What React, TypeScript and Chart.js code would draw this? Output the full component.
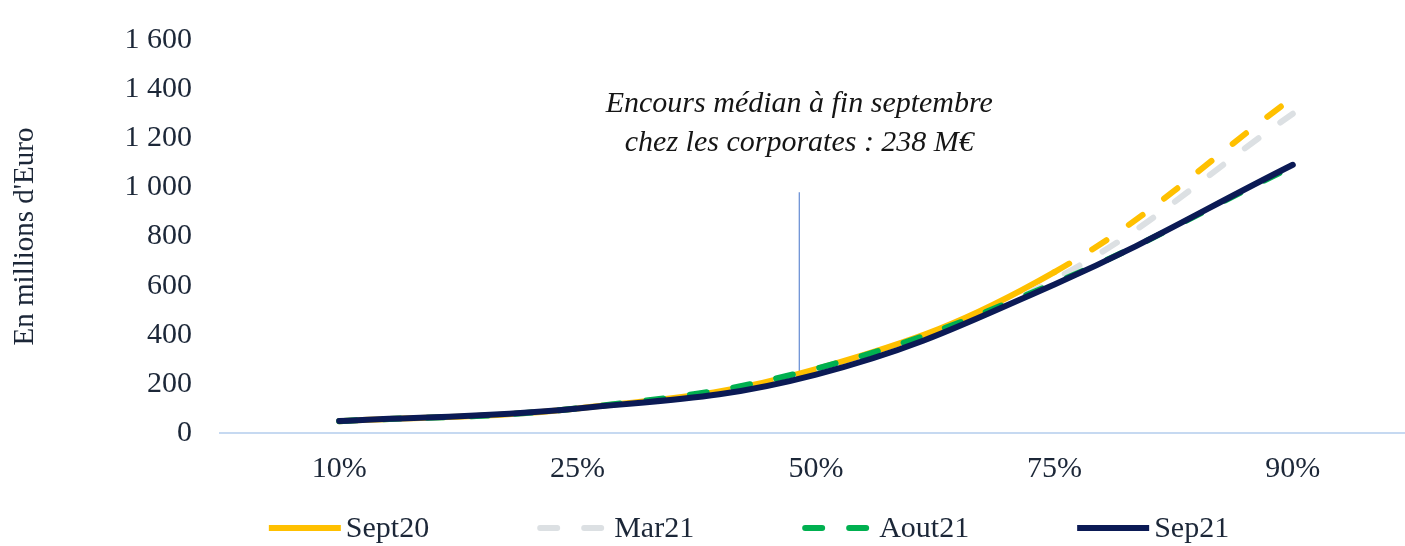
import React, { useEffect, useRef } from 'react';
import { Chart, registerables } from 'chart.js';

Chart.register(...registerables);

const categories = ['10%', '25%', '50%', '75%', '90%'];
const seriesNames = ['Sept20', 'Mar21', 'Aout21', 'Sep21'];
const sept20 = [48, 100, 260, 655, 1365];
const mar21 = [48, 100, 255, 625, 1300];
const aout21 = [48, 101, 262, 610, 1085];
const sep21 = [49, 100, 238, 605, 1092];
const seriesColors = ['#FFC000', '#DCE0E3', '#00B050', '#0B1A55'];
const yMin = 0;
const yMax = 1600;
const yStep = 200;
const yTitle = "En millions d'Euro";
const noteLines = ['Encours médian à fin septembre', 'chez les corporates : 238 M€'];
const noteX = 1.93; // position on the category axis
const noteLineTop = 980;
const noteLineBottom = 250;
const noteTextY = [1339, 1180];

const FONT = "'Liberation Serif', 'Times New Roman', serif";
const TEXT_COLOR = '#1c2738';
const DASH = [17, 27];

const fmt = (v: number) => String(v).replace(/\B(?=(\d{3})+(?!\d))/g, ' ');

const notePlugin = {
  id: 'medianNote',
  beforeDatasetsDraw(chart: any) {
    const { ctx, scales } = chart;
    const x = scales.x.getPixelForValue(noteX);
    ctx.save();
    ctx.strokeStyle = '#6f93d6';
    ctx.lineWidth = 1.3;
    ctx.beginPath();
    ctx.moveTo(x, scales.y.getPixelForValue(noteLineTop));
    ctx.lineTo(x, scales.y.getPixelForValue(noteLineBottom));
    ctx.stroke();
    ctx.restore();
  },
  afterDraw(chart: any) {
    const { ctx, scales } = chart;
    const x = scales.x.getPixelForValue(noteX);
    ctx.save();
    ctx.font = `italic 30px ${FONT}`;
    ctx.fillStyle = '#151515';
    ctx.textAlign = 'center';
    ctx.textBaseline = 'middle';
    noteLines.forEach((t, i) => {
      ctx.fillText(t, x, scales.y.getPixelForValue(noteTextY[i]));
    });
    ctx.restore();
  },
};

const legendPlugin = {
  id: 'customLegend',
  afterDraw(chart: any) {
    const { ctx } = chart;
    const lineLen = 72;
    const textGap = 5;
    const itemGap = 108;
    const centerX = 749;
    const y = 528;
    ctx.save();
    ctx.font = `30px ${FONT}`;
    const widths = chart.data.datasets.map((d: any) => lineLen + textGap + ctx.measureText(d.label).width);
    const total = widths.reduce((a: number, b: number) => a + b, 0) + itemGap * (widths.length - 1);
    let x = centerX - total / 2;
    chart.data.datasets.forEach((d: any, i: number) => {
      ctx.save();
      ctx.strokeStyle = d.borderColor;
      ctx.lineWidth = 6;
      ctx.lineCap = d.legendDashed ? 'round' : 'butt';
      ctx.setLineDash(d.legendDashed ? DASH : []);
      ctx.beginPath();
      ctx.moveTo(x + (d.legendDashed ? 3 : 0), y);
      ctx.lineTo(x + lineLen, y);
      ctx.stroke();
      ctx.restore();
      ctx.fillStyle = TEXT_COLOR;
      ctx.textAlign = 'left';
      ctx.textBaseline = 'middle';
      ctx.fillText(d.label, x + lineLen + textGap, y + 1);
      x += widths[i] + itemGap;
    });
    ctx.restore();
  },
};

export default function App() {
  const ref = useRef<HTMLCanvasElement | null>(null);

  useEffect(() => {
    if (!ref.current) return;
    const chart = new Chart(ref.current, {
      type: 'line',
      data: {
        labels: categories,
        datasets: [
          {
            label: seriesNames[0],
            data: sept20,
            borderColor: seriesColors[0],
            borderWidth: 6,
            borderCapStyle: 'round',
            pointRadius: 0,
            tension: 0.4,
            order: 3,
            segment: {
              borderDash: (c: any) => (c.p0DataIndex === categories.length - 2 ? DASH : undefined),
            },
          } as any,
          {
            label: seriesNames[1],
            data: mar21,
            borderColor: seriesColors[1],
            borderWidth: 6,
            borderDash: DASH,
            borderCapStyle: 'round',
            pointRadius: 0,
            tension: 0.4,
            order: 2,
            legendDashed: true,
          } as any,
          {
            label: seriesNames[2],
            data: aout21,
            borderColor: seriesColors[2],
            borderWidth: 6,
            borderDash: DASH,
            borderCapStyle: 'round',
            pointRadius: 0,
            tension: 0.4,
            order: 1,
            legendDashed: true,
          } as any,
          {
            label: seriesNames[3],
            data: sep21,
            borderColor: seriesColors[3],
            borderWidth: 6,
            borderCapStyle: 'round',
            pointRadius: 0,
            tension: 0.4,
            order: 0,
          } as any,
        ],
      },
      options: {
        animation: false,
        responsive: false,
        layout: { padding: { top: 40, right: 0, bottom: 41, left: 0 } },
        plugins: {
          legend: { display: false },
          tooltip: { enabled: false },
        },
        scales: {
          x: {
            offset: true,
            grid: { display: false, drawTicks: false },
            border: { display: true, color: '#c6d9f1', width: 2 },
            ticks: { color: TEXT_COLOR, font: { family: FONT, size: 30 }, padding: 18, maxRotation: 0 },
          },
          y: {
            min: yMin,
            max: yMax,
            grid: { display: false, drawTicks: false },
            border: { display: false },
            ticks: {
              stepSize: yStep,
              color: TEXT_COLOR,
              font: { family: FONT, size: 30 },
              padding: 28,
              callback: (v: any) => fmt(Number(v)),
            },
            title: {
              display: true,
              text: yTitle,
              color: TEXT_COLOR,
              font: { family: FONT, size: 29 },
              padding: { top: 8, bottom: 0 },
            },
            afterFit: (scale: any) => {
              scale.width = 220;
              scale.paddingTop = 0;
              scale.paddingBottom = 0;
            },
          },
        },
      } as any,
      plugins: [notePlugin, legendPlugin],
    });
    return () => chart.destroy();
  }, []);

  return (
    <div
      style={{
        position: 'fixed',
        left: 0,
        top: 0,
        width: 1405,
        height: 546,
        overflow: 'hidden',
        background: '#fff',
      }}
    >
      <canvas ref={ref} width={1412} height={546} style={{ display: 'block' }} />
    </div>
  );
}
